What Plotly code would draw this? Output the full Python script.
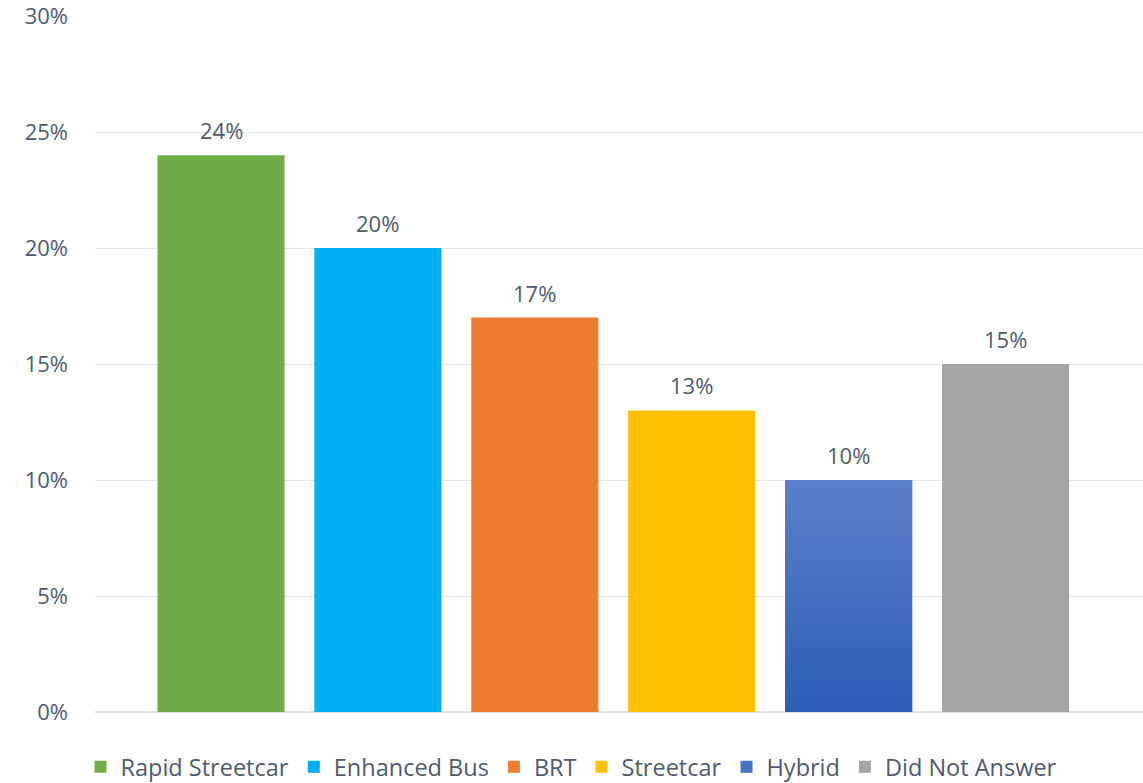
import plotly.graph_objects as go

categories = ["Rapid Streetcar", "Enhanced Bus", "BRT", "Streetcar", "Hybrid", "Did Not Answer"]
values = [24, 20, 17, 13, 10, 15]
colors = ["#70AD47", "#00B0F0", "#ED7D31", "#FFC000", "#4472C4", "#A5A5A5"]
hybrid_gradient = ["#2D5DB6", "#5C80CC"]  # bottom -> top
tick_vals = [0, 5, 10, 15, 20, 25, 30]
tick_text = ["0%", "5%", "10%", "15%", "20%", "25%", "30%"]

TEXT = "#4F5B6D"
FONT = "Open Sans"
BAR_W = 0.81

fig = go.Figure()
for i, (cat, val, col) in enumerate(zip(categories, values, colors)):
    fig.add_trace(go.Bar(
        x=[i], y=[val], name=cat, width=BAR_W,
        marker=dict(color=col, line=dict(width=0)),
        hovertemplate=cat + ": %{y}%<extra></extra>",
    ))

# gradient overlay for the Hybrid bar
hi = categories.index("Hybrid")
hv = values[hi]
fig.add_trace(go.Scatter(
    x=[hi - BAR_W / 2, hi + BAR_W / 2, hi + BAR_W / 2, hi - BAR_W / 2, hi - BAR_W / 2],
    y=[0, 0, hv, hv, 0],
    mode="lines", fill="toself", line=dict(width=0, color="rgba(0,0,0,0)"),
    fillgradient=dict(type="vertical",
                      colorscale=[[0, hybrid_gradient[0]], [1, hybrid_gradient[1]]]),
    showlegend=False, hoverinfo="skip",
))

annotations = [
    dict(x=i, y=val, text=f"{val}%", showarrow=False, xref="x", yref="y",
         yanchor="bottom", yshift=8, font=dict(size=22, color=TEXT, family=FONT))
    for i, val in enumerate(values)
]

fig.update_layout(
    width=1143, height=783,
    barmode="overlay",
    plot_bgcolor="white", paper_bgcolor="white",
    margin=dict(l=95, r=0, t=16, b=71, autoexpand=False),
    font=dict(family=FONT, size=22, color=TEXT),
    annotations=annotations,
    showlegend=True,
    legend=dict(orientation="h", x=0.5, xanchor="center", xref="container",
                y=0.0204, yanchor="middle", yref="container",
                font=dict(size=23.5, color=TEXT, family=FONT),
                itemwidth=30, traceorder="normal"),
    xaxis=dict(range=[-0.803, 5.876], showticklabels=False, showgrid=False,
               zeroline=False, showline=False, fixedrange=True),
    yaxis=dict(range=[0, 30], tickvals=tick_vals, ticktext=tick_text,
               showgrid=True, gridcolor="#E3E6EB", gridwidth=1.2,
               zeroline=True, zerolinecolor="#DDE1E6", zerolinewidth=1.5,
               showline=False, ticks="", ticklabelstandoff=26,
               ticklabeloverflow="allow", automargin=False,
               tickfont=dict(size=22, color=TEXT, family=FONT)),
)

fig.write_html("out.html",
               config={"displayModeBar": False},
               post_script="document.body.style.margin='0';document.body.style.overflow='hidden';")
